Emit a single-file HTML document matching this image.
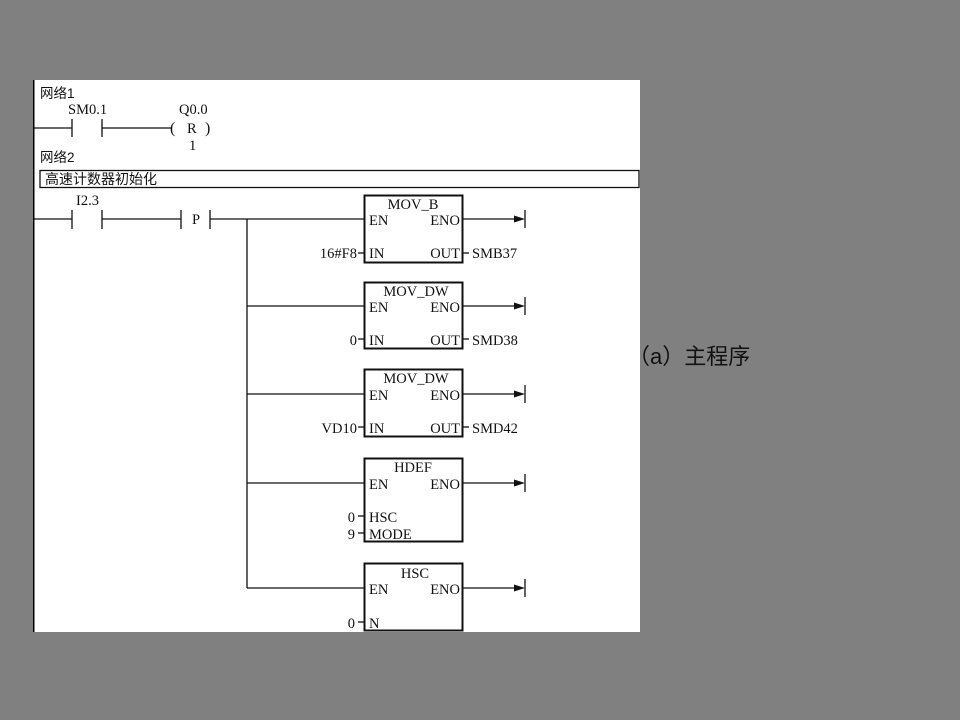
<!DOCTYPE html>
<html><head><meta charset="utf-8"><style>
html,body{margin:0;padding:0;background:#808080;width:960px;height:720px;overflow:hidden}
svg{display:block}
text{font-family:"Liberation Serif","Noto Serif CJK SC",serif;font-size:14.5px;fill:#111}
.cjk{font-family:"Liberation Sans","Noto Sans CJK SC",sans-serif;font-size:13.5px}
</style></head><body>
<svg width="960" height="720" viewBox="0 0 960 720" xmlns="http://www.w3.org/2000/svg">
<rect x="0" y="0" width="960" height="720" fill="#808080"/>
<rect x="32" y="80" width="608" height="552" fill="#fff"/>
<line x1="33.5" y1="80" x2="33.5" y2="632" stroke="#000" stroke-width="2"/>
<g stroke="#111" stroke-width="1.3" fill="none">
<line x1="34" y1="128" x2="72" y2="128"/>
<line x1="72" y1="119" x2="72" y2="137"/>
<line x1="102" y1="119" x2="102" y2="137"/>
<line x1="102" y1="128" x2="172" y2="128"/>
<rect x="40" y="170.5" width="599" height="17"/>
<line x1="34" y1="219" x2="72" y2="219"/>
<line x1="72" y1="210" x2="72" y2="229"/>
<line x1="102" y1="210" x2="102" y2="229"/>
<line x1="102" y1="219" x2="181" y2="219"/>
<line x1="181" y1="210" x2="181" y2="229"/>
<line x1="210" y1="210" x2="210" y2="229"/>
<line x1="210" y1="219" x2="364" y2="219"/>
<line x1="247" y1="219" x2="247" y2="588"/>
<line x1="247" y1="306" x2="364" y2="306"/>
<line x1="247" y1="394" x2="364" y2="394"/>
<line x1="247" y1="483" x2="364" y2="483"/>
<line x1="247" y1="588" x2="364" y2="588"/>
<rect x="364.5" y="195.5" width="98" height="67" stroke-width="2"/>
<rect x="364.5" y="282.5" width="98" height="66" stroke-width="2"/>
<rect x="364.5" y="369.5" width="98" height="67" stroke-width="2"/>
<rect x="364.5" y="458.5" width="98" height="83" stroke-width="2"/>
<rect x="364.5" y="563.5" width="98" height="67" stroke-width="2"/>
<line x1="463" y1="219" x2="518" y2="219"/><line x1="525" y1="210" x2="525" y2="228"/>
<line x1="463" y1="306" x2="518" y2="306"/><line x1="525" y1="297" x2="525" y2="315"/>
<line x1="463" y1="394" x2="518" y2="394"/><line x1="525" y1="385" x2="525" y2="403"/>
<line x1="463" y1="483" x2="518" y2="483"/><line x1="525" y1="474" x2="525" y2="492"/>
<line x1="463" y1="588" x2="518" y2="588"/><line x1="525" y1="579" x2="525" y2="597"/>
<line x1="358" y1="253" x2="364" y2="253"/><line x1="463" y1="253" x2="469" y2="253"/>
<line x1="358" y1="339" x2="364" y2="339"/><line x1="463" y1="339" x2="469" y2="339"/>
<line x1="358" y1="427" x2="364" y2="427"/><line x1="463" y1="427" x2="469" y2="427"/>
<line x1="358" y1="516" x2="364" y2="516"/>
<line x1="358" y1="533" x2="364" y2="533"/>
<line x1="358" y1="622" x2="364" y2="622"/>
</g>
<g fill="#111">
<polygon points="525,219 514,215.5 514,222.5"/>
<polygon points="525,306 514,302.5 514,309.5"/>
<polygon points="525,394 514,390.5 514,397.5"/>
<polygon points="525,483 514,479.5 514,486.5"/>
<polygon points="525,588 514,584.5 514,591.5"/>
</g>
<text class="cjk" x="40" y="98">网络1</text>
<text x="68" y="114">SM0.1</text>
<text x="179" y="114">Q0.0</text>
<text x="170" y="133" style="font-size:16px">(</text>
<text x="187" y="133">R</text>
<text x="205" y="133" style="font-size:16px">)</text>
<text x="189" y="150">1</text>
<text class="cjk" x="40" y="162">网络2</text>
<text class="cjk" x="45" y="184" style="font-size:14px">高速计数器初始化</text>
<text x="76" y="205">I2.3</text>
<text x="192" y="224">P</text>

<text x="413" y="209" text-anchor="middle">MOV_B</text>
<text x="369" y="225">EN</text><text x="460" y="225" text-anchor="end">ENO</text>
<text x="369" y="258">IN</text><text x="460" y="258" text-anchor="end">OUT</text>
<text x="357" y="258" text-anchor="end">16#F8</text><text x="472" y="258">SMB37</text>

<text x="416" y="296" text-anchor="middle">MOV_DW</text>
<text x="369" y="312">EN</text><text x="460" y="312" text-anchor="end">ENO</text>
<text x="369" y="345">IN</text><text x="460" y="345" text-anchor="end">OUT</text>
<text x="357" y="345" text-anchor="end">0</text><text x="472" y="345">SMD38</text>

<text x="416" y="383" text-anchor="middle">MOV_DW</text>
<text x="369" y="400">EN</text><text x="460" y="400" text-anchor="end">ENO</text>
<text x="369" y="433">IN</text><text x="460" y="433" text-anchor="end">OUT</text>
<text x="357" y="433" text-anchor="end">VD10</text><text x="472" y="433">SMD42</text>

<text x="413" y="472" text-anchor="middle">HDEF</text>
<text x="369" y="489">EN</text><text x="460" y="489" text-anchor="end">ENO</text>
<text x="369" y="522">HSC</text><text x="369" y="539">MODE</text>
<text x="355" y="522" text-anchor="end">0</text><text x="355" y="539" text-anchor="end">9</text>

<text x="415" y="578" text-anchor="middle">HSC</text>
<text x="369" y="594">EN</text><text x="460" y="594" text-anchor="end">ENO</text>
<text x="369" y="628">N</text><text x="355" y="628" text-anchor="end">0</text>

<text class="cjk" x="628" y="364" style="font-size:22px;fill:#111">（a）主程序</text>
</svg>
</body></html>
